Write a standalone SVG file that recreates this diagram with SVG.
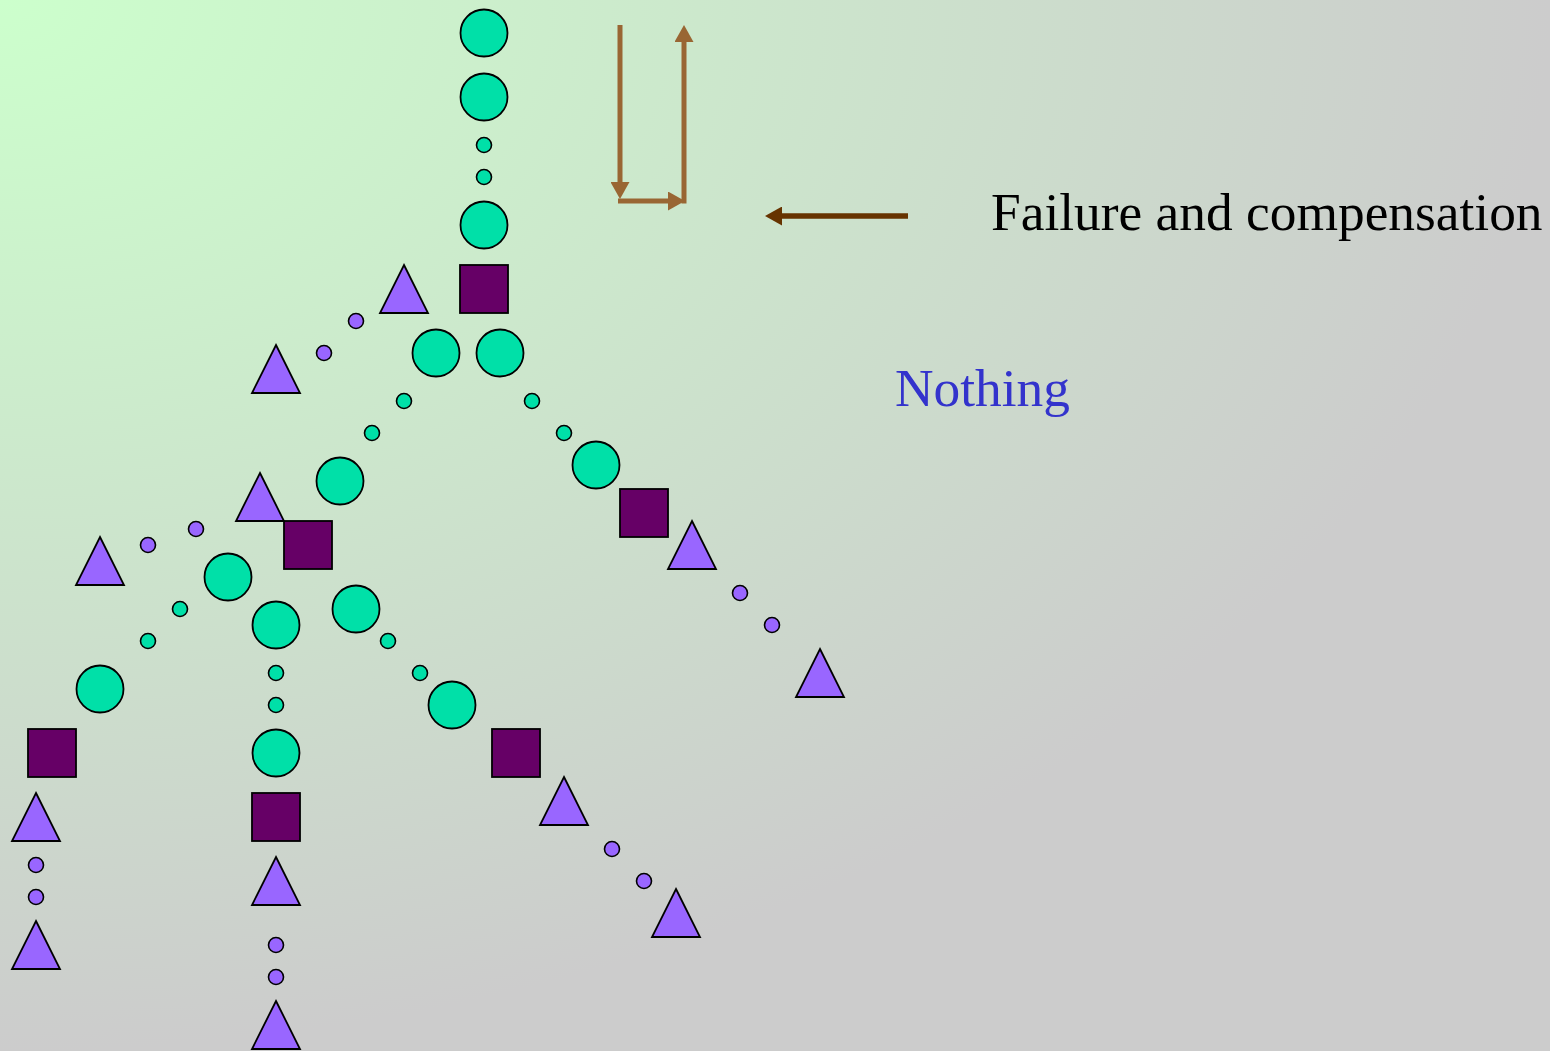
<svg xmlns="http://www.w3.org/2000/svg" width="1550" height="1051" viewBox="0 0 1550 1051">
<defs>
<radialGradient id="bg" cx="0" cy="0" r="1" fx="0" fy="0" gradientUnits="objectBoundingBox">
<stop offset="0" stop-color="#CCFFCC"/>
<stop offset="1" stop-color="#CCCCCC"/>
</radialGradient>
<marker id="ah" markerUnits="userSpaceOnUse" markerWidth="17" markerHeight="19" refX="0" refY="9.5" orient="auto" viewBox="0 0 17 19">
<path d="M0,0 L17,9.5 L0,19 z" fill="#996633"/>
</marker>
<marker id="ahd" markerUnits="userSpaceOnUse" markerWidth="17" markerHeight="19" refX="0" refY="9.5" orient="auto" viewBox="0 0 17 19">
<path d="M0,0 L17,9.5 L0,19 z" fill="#663300"/>
</marker>
<style>
.b{fill:#00E0A8;stroke:#000;stroke-width:1.8}
.s{fill:#00E0A8;stroke:#000;stroke-width:1.6}
.p{fill:#9966FF;stroke:#000;stroke-width:1.6}
.t{fill:#9966FF;stroke:#000;stroke-width:1.8;stroke-linejoin:miter}
.q{fill:#660066;stroke:#000;stroke-width:1.8}
.txt{font-family:"Liberation Serif","Times New Roman",serif;font-size:53.4px}
</style>
</defs>
<rect width="1550" height="1051" fill="url(#bg)"/>
<g id="connectors" fill="none">
<path d="M620,25 V182" stroke="#996633" stroke-width="5" marker-end="url(#ah)"/>
<path d="M618,201 H668" stroke="#996633" stroke-width="5" marker-end="url(#ah)"/>
<path d="M684,203.5 V42" stroke="#996633" stroke-width="5" marker-end="url(#ah)"/>
<path d="M908,216 H782" stroke="#663300" stroke-width="5.5" marker-end="url(#ahd)"/>
</g>
<g id="trunk">
<circle class="b" cx="484" cy="33" r="23.5"/>
<circle class="b" cx="484" cy="97" r="23.5"/>
<circle class="s" cx="484" cy="145" r="7.5"/>
<circle class="s" cx="484" cy="177" r="7.5"/>
<circle class="b" cx="484" cy="225" r="23.5"/>
<rect class="q" x="460" y="265" width="48" height="48"/>
</g>
<g id="top-left-purple">
<polygon class="t" points="404,265 428,313 380,313"/>
<circle class="p" cx="356" cy="321" r="7.5"/>
<circle class="p" cx="324" cy="353" r="7.5"/>
<polygon class="t" points="276,345 300,393 252,393"/>
</g>
<g id="split-circles">
<circle class="b" cx="436" cy="353" r="23.5"/>
<circle class="b" cx="500" cy="353" r="23.5"/>
</g>
<g id="left-branch">
<circle class="s" cx="404" cy="401" r="7.5"/>
<circle class="s" cx="372" cy="433" r="7.5"/>
<circle class="b" cx="340" cy="481" r="23.5"/>
<polygon class="t" points="260,473 284,521 236,521"/>
<rect class="q" x="284" y="521" width="48" height="48"/>
</g>
<g id="left-purple">
<circle class="p" cx="196" cy="529" r="7.5"/>
<circle class="p" cx="148" cy="545" r="7.5"/>
<polygon class="t" points="100,537 124,585 76,585"/>
</g>
<g id="second-split">
<circle class="b" cx="228" cy="577" r="23.5"/>
<circle class="b" cx="276" cy="625" r="23.5"/>
<circle class="b" cx="356" cy="609" r="23.5"/>
</g>
<g id="far-left-branch">
<circle class="s" cx="180" cy="609" r="7.5"/>
<circle class="s" cx="148" cy="641" r="7.5"/>
<circle class="b" cx="100" cy="689" r="23.5"/>
<rect class="q" x="28" y="729" width="48" height="48"/>
<polygon class="t" points="36,793 60,841 12,841"/>
<circle class="p" cx="36" cy="865" r="7.5"/>
<circle class="p" cx="36" cy="897" r="7.5"/>
<polygon class="t" points="36,921 60,969 12,969"/>
</g>
<g id="middle-branch">
<circle class="s" cx="276" cy="673" r="7.5"/>
<circle class="s" cx="276" cy="705" r="7.5"/>
<circle class="b" cx="276" cy="753" r="23.5"/>
<rect class="q" x="252" y="793" width="48" height="48"/>
<polygon class="t" points="276,857 300,905 252,905"/>
<circle class="p" cx="276" cy="945" r="7.5"/>
<circle class="p" cx="276" cy="977" r="7.5"/>
<polygon class="t" points="276,1001 300,1049 252,1049"/>
</g>
<g id="inner-right-branch">
<circle class="s" cx="388" cy="641" r="7.5"/>
<circle class="s" cx="420" cy="673" r="7.5"/>
<circle class="b" cx="452" cy="705" r="23.5"/>
<rect class="q" x="492" y="729" width="48" height="48"/>
<polygon class="t" points="564,777 588,825 540,825"/>
<circle class="p" cx="612" cy="849" r="7.5"/>
<circle class="p" cx="644" cy="881" r="7.5"/>
<polygon class="t" points="676,889 700,937 652,937"/>
</g>
<g id="right-branch">
<circle class="s" cx="532" cy="401" r="7.5"/>
<circle class="s" cx="564" cy="433" r="7.5"/>
<circle class="b" cx="596" cy="465" r="23.5"/>
<rect class="q" x="620" y="489" width="48" height="48"/>
<polygon class="t" points="692,521 716,569 668,569"/>
<circle class="p" cx="740" cy="593" r="7.5"/>
<circle class="p" cx="772" cy="625" r="7.5"/>
<polygon class="t" points="820,649 844,697 796,697"/>
</g>
<g id="label-failure">
<text class="txt" x="991" y="230" fill="#000">Failure and compensation</text>
</g>
<g id="label-nothing">
<text class="txt" x="895" y="406" fill="#3333CC">Nothing</text>
</g>
</svg>
